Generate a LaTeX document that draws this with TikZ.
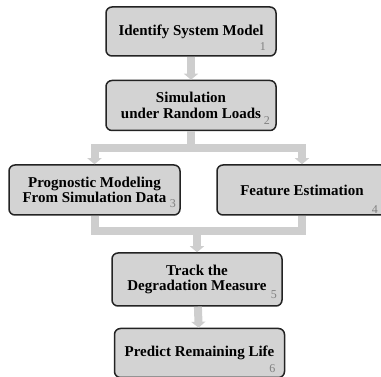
\documentclass[tikz,border=0pt]{standalone}
\usepackage{fontspec}
\setmainfont{Liberation Serif}
\usetikzlibrary{arrows.meta, calc, positioning}
\definecolor{boxfill}{RGB}{211,211,211}
\definecolor{boxline}{RGB}{35,35,35}
\definecolor{flowgray}{RGB}{206,206,206}
\definecolor{numgray}{RGB}{128,128,128}

\begin{document}
\begin{tikzpicture}[x=1pt, y=1pt,
    stage/.style={draw=boxline, line width=1.5pt, fill=boxfill, rounded corners=6pt, minimum width=170pt, minimum height=50pt, align=center, inner sep=0pt, font=\fontsize{15}{15.5}\selectfont\bfseries},
    num/.style={text=numgray, inner sep=0pt, font=\fontsize{12}{12}\selectfont},
    bar/.style={draw=flowgray, line width=8pt},
    flow/.style={bar, -{Triangle[width=14pt, length=6pt]}}]
    \clip (0,0) rectangle (381,377);

    % Model
    \node[stage, minimum height=49pt] (ident) at (191,345.5) {Identify System Model};

    % Simulation
    \node[stage, below=23pt of ident] (sim) {Simulation\\under Random Loads};

    % Two branches
    \node[stage, below=33pt of sim, xshift=-96.5pt, minimum width=171pt] (prog) {Prognostic Modeling\\From Simulation Data};
    \node[stage, below=33pt of sim, xshift=111pt] (feat) {Feature Estimation};

    % Tracking
    \node[stage, below=121pt of sim, xshift=6pt, minimum height=53pt] (track) {Track the\\Degradation Measure};

    % Prediction
    \node[stage, below=21pt of track, xshift=2.5pt, minimum height=49pt] (pred) {Predict Remaining Life};

    % Step numbers
    \node[num] (n1) at ($(ident.south east)+(-14,10.5)$) {1};
    \node[num] (n2) at ($(sim.south east)+(-10,11)$) {2};
    \node[num] (n3) at ($(prog.south east)+(-8,12)$) {3};
    \node[num] (n4) at ($(feat.south east)+(-13,6)$) {4};
    \node[num] (n5) at ($(track.south east)+(-9,12)$) {5};
    \node[num] (n6) at ($(pred.south east)+(-13,10)$) {6};

    % Arrows
    \draw[flow] (ident) -- (sim);
    \draw[bar] (sim.south) -- ++(0,-17) coordinate (split);
    \draw[flow] (split) -| (prog.north);
    \draw[flow] (split) -| (feat.north);
    \draw[bar] (prog.south) -- ++(0,-15) coordinate (merge) -| (feat.south);
    \draw[flow] (track.north |- merge) -- (track.north);
    \draw[flow] (track) -- (pred);
\end{tikzpicture}
\end{document}
